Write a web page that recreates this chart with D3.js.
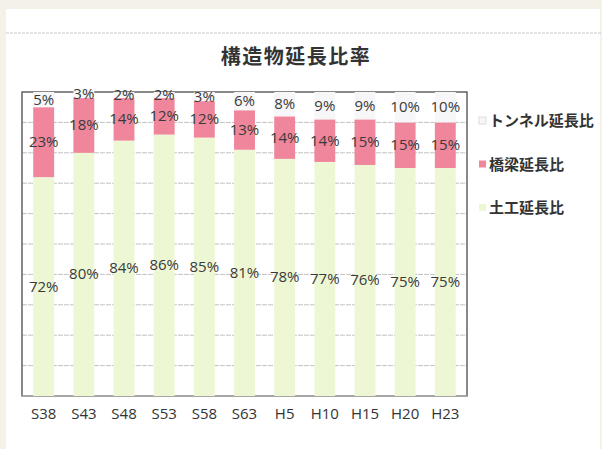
<!DOCTYPE html>
<html>
<head>
<meta charset="utf-8">
<script src="https://cdn.jsdelivr.net/npm/d3@7"></script>
<style>
  body { margin: 0; background: #f3f1e8; }
  svg { display: block; }
</style>
</head>
<body>
<script>
var years = ["S38", "S43", "S48", "S53", "S58", "S63", "H5", "H10", "H15", "H20", "H23"];
var earthwork = [72, 80, 84, 86, 85, 81, 78, 77, 76, 75, 75];
var bridge = [23, 18, 14, 12, 12, 13, 14, 14, 15, 15, 15];
var tunnel = [5, 3, 2, 2, 3, 6, 8, 9, 9, 10, 10];
var seriesNames = ["土工延長比", "橋梁延長比", "トンネル延長比"];
var yTicks = [0, 10, 20, 30, 40, 50, 60, 70, 80, 90, 100];

var svgWidth = 602;
var svgHeight = 449;
var margin = { top: 92, right: 135, bottom: 53, left: 22 };
var width = svgWidth - margin.left - margin.right;
var height = svgHeight - margin.top - margin.bottom;

var colors = ["#edf7d4", "#f0869b", "#f7f6f8"];

var svg = d3.select("body").append("svg")
    .attr("width", svgWidth)
    .attr("height", svgHeight);

// page card
svg.append("rect").attr("x", 6).attr("y", 9)
    .attr("width", svgWidth - 8).attr("height", svgHeight - 9)
    .attr("fill", "#ffffff");
svg.append("line").attr("x1", 6).attr("x2", svgWidth)
    .attr("y1", 33).attr("y2", 33)
    .attr("stroke", "#c8c8c8").attr("stroke-dasharray", "3,1");

svg.append("text")
    .attr("x", 296).attr("y", 64)
    .attr("text-anchor", "middle")
    .style("font-family", "'Noto Sans CJK JP', sans-serif")
    .style("font-weight", "bold")
    .style("font-size", "20px")
    .style("letter-spacing", "1.5px")
    .attr("fill", "#333")
    .text("構造物延長比率");

var chartGroup = svg.append("g")
    .attr("transform", `translate(${margin.left}, ${margin.top})`);

var x = d3.scaleBand().domain(years).range([0, width]).paddingInner(0.48).paddingOuter(0.28);
var y = d3.scaleLinear().domain([0, 100]).range([height, 0]);

// gridlines
chartGroup.append("g")
    .selectAll("line")
    .data(yTicks.slice(1, -1))
    .enter()
    .append("line")
    .attr("x1", 0).attr("x2", width)
    .attr("y1", d => y(d)).attr("y2", d => y(d))
    .attr("stroke", "#c2c2c2")
    .attr("stroke-dasharray", "5,1");

// plot border
chartGroup.append("rect")
    .attr("width", width).attr("height", height)
    .attr("fill", "none")
    .attr("stroke", "#4a4a4a")
    .attr("stroke-width", 1.3);
chartGroup.append("line")
    .attr("x1", 0).attr("x2", width).attr("y1", height).attr("y2", height)
    .attr("stroke", "#b0b0b0").attr("stroke-width", 1.3);

var table = years.map(function (yr, i) {
    return { year: yr, earth: earthwork[i], bridge: bridge[i], tunnel: tunnel[i] };
});
var stack = d3.stack().keys(["earth", "bridge", "tunnel"]);
var layers = stack(table);

layers.forEach(function (layer, li) {
    chartGroup.append("g")
        .selectAll("rect")
        .data(layer)
        .enter()
        .append("rect")
        .attr("x", d => x(d.data.year))
        .attr("width", x.bandwidth())
        .attr("y", d => y(d[1]))
        .attr("height", d => y(d[0]) - y(d[1]))
        .attr("fill", colors[li]);
});

layers.forEach(function (layer) {
    chartGroup.append("g")
        .selectAll("text")
        .data(layer)
        .enter()
        .append("text")
        .attr("x", d => x(d.data.year) + x.bandwidth() / 2)
        .attr("y", d => y((d[0] + d[1]) / 2) + 5)
        .attr("text-anchor", "middle")
        .style("font-family", "'Open Sans', sans-serif")
        .style("font-size", "15px")
        .attr("fill", "#3a3a3a")
        .text(d => (d[1] - d[0]) + "%");
});

// x axis labels
var xAxis = chartGroup.append("g")
    .attr("transform", `translate(0, ${height})`)
    .call(d3.axisBottom(x).tickSize(0).tickPadding(12));
xAxis.select(".domain").remove();
xAxis.selectAll("text")
    .style("font-family", "'Open Sans', sans-serif")
    .style("font-size", "15px")
    .attr("fill", "#333");

// legend
var legendItems = [
    { name: seriesNames[2], color: colors[2] },
    { name: seriesNames[1], color: colors[1] },
    { name: seriesNames[0], color: colors[0] }
];
var legend = svg.append("g").attr("transform", "translate(479, 120)");
legendItems.forEach(function (item, i) {
    var row = legend.append("g").attr("transform", `translate(0, ${i * 43.5})`);
    row.append("rect")
        .attr("x", 0).attr("y", -3)
        .attr("width", 7).attr("height", 7)
        .attr("fill", item.color)
        .attr("stroke", i === 0 ? "#ddd" : "none");
    row.append("text")
        .attr("x", 10).attr("y", 6)
        .style("font-family", "'Noto Sans CJK JP', sans-serif")
        .style("font-weight", "bold")
        .style("font-size", "15px")
        .attr("fill", "#333")
        .text(item.name);
});
</script>
</body>
</html>
